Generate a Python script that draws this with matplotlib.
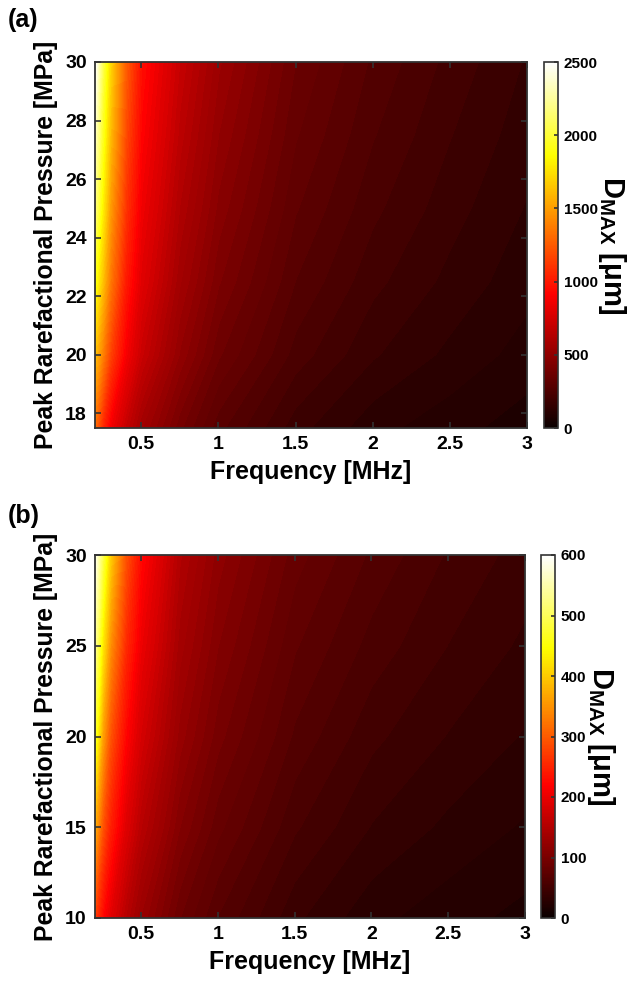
import numpy as np
import matplotlib
matplotlib.use("Agg")
import matplotlib.pyplot as plt
from matplotlib import colors, cm

plt.rcParams['font.family'] = ['Liberation Sans', 'DejaVu Sans']
plt.rcParams['font.weight'] = 'bold'
plt.rcParams['mathtext.fontset'] = 'custom'
plt.rcParams['mathtext.rm'] = 'Liberation Sans:bold'
plt.rcParams['mathtext.bf'] = 'Liberation Sans:bold'

# ---- data ----
freq = [0.2, 0.25, 0.3, 0.4, 0.5, 0.75, 1.0, 1.5, 2.0, 2.5, 3.0]

pressure_a = [17.5, 20, 22.5, 25, 27.5, 30]
dmax_a = [
    [1300, 1050, 870, 690, 565, 400, 290, 180, 122, 95, 70],
    [1620, 1380, 1150, 880, 710, 500, 370, 240, 172, 133, 100],
    [1900, 1620, 1350, 1000, 800, 565, 425, 280, 205, 160, 122],
    [2150, 1800, 1480, 1100, 860, 615, 468, 312, 232, 180, 138],
    [2330, 1930, 1600, 1180, 915, 660, 505, 340, 255, 198, 152],
    [2500, 2050, 1700, 1250, 960, 700, 540, 365, 275, 215, 165],
]

pressure_b = [10, 15, 20, 25, 30]
dmax_b = [
    [270, 222, 193, 154, 127, 88, 67, 42, 29, 23, 18],
    [370, 290, 245, 190, 155, 108, 83, 55, 40, 32, 26],
    [470, 360, 290, 222, 180, 125, 97, 66, 49, 40, 33],
    [530, 425, 345, 256, 203, 138, 108, 75, 58, 47, 39],
    [590, 490, 400, 290, 225, 150, 118, 84, 66, 53, 44],
]

xticks = [0.5, 1, 1.5, 2, 2.5, 3]
xticklabels = ['0.5', '1', '1.5', '2', '2.5', '3']
yticks_a = [18, 20, 22, 24, 26, 28, 30]
yticks_b = [10, 15, 20, 25, 30]
cticks_a = [0, 500, 1000, 1500, 2000, 2500]
cticks_b = [0, 100, 200, 300, 400, 500, 600]

W, H = 633, 984
fig = plt.figure(figsize=(W / 100, H / 100), dpi=100)


def px(l, t, r, b):
    return [l / W, 1 - b / H, (r - l) / W, (b - t) / H]


def panel(ax_box, cb_box, pres, dm, vmax, yticks, cticks, ylim, letter, letter_y):
    ax = fig.add_axes(px(*ax_box))
    X, Y = np.meshgrid(freq, pres)
    Z = np.array(dm, dtype=float)
    levels = np.linspace(0, vmax, 90)
    cs = ax.contourf(X, Y, Z, levels=levels, cmap='hot', vmin=0, vmax=vmax)
    cs.set_edgecolor('face')
    cs.set_linewidth(0.4)
    ax.set_xlim(0.2, 3)
    ax.set_ylim(*ylim)
    ax.set_xticks(xticks)
    ax.set_xticklabels(xticklabels)
    ax.set_yticks(yticks)
    ax.tick_params(direction='in', top=True, right=True, length=4, width=1.2,
                   color='#333333', labelsize=14, pad=6)
    for lab in ax.get_xticklabels() + ax.get_yticklabels():
        lab.set_fontweight('bold')
    for s in ax.spines.values():
        s.set_color('#333333')
        s.set_linewidth(1.3)
    ax.set_xlabel('Frequency [MHz]', fontsize=18, fontweight='bold', labelpad=5)
    ax.set_ylabel('Peak Rarefactional Pressure [MPa]', fontsize=17.8,
                  fontweight='bold', labelpad=5)

    cax = fig.add_axes(px(*cb_box))
    sm = cm.ScalarMappable(norm=colors.Normalize(0, vmax), cmap='hot')
    cb = fig.colorbar(sm, cax=cax, ticks=cticks)
    cb.outline.set_edgecolor('#333333')
    cb.outline.set_linewidth(1.2)
    cax.tick_params(direction='in', length=3, width=1.2, color='#333333',
                    labelsize=11, pad=4)
    for lab in cax.get_yticklabels():
        lab.set_fontweight('bold')
    cb.set_label(r'D$_{\mathbf{MAX}}$ [μm]', rotation=270, fontsize=21,
                 fontweight='bold', labelpad=22)
    fig.text(8 / W, 1 - letter_y / H, letter, fontsize=18, fontweight='bold',
             va='center', ha='left')


panel((95, 62, 527, 428), (544, 62, 558, 428), pressure_a, dmax_a, 2500,
      yticks_a, cticks_a, (17.5, 30), '(a)', 20)
panel((95, 555, 525, 918), (541, 555, 555, 918), pressure_b, dmax_b, 600,
      yticks_b, cticks_b, (10, 30), '(b)', 516)

fig.savefig('out.png', dpi=100)
